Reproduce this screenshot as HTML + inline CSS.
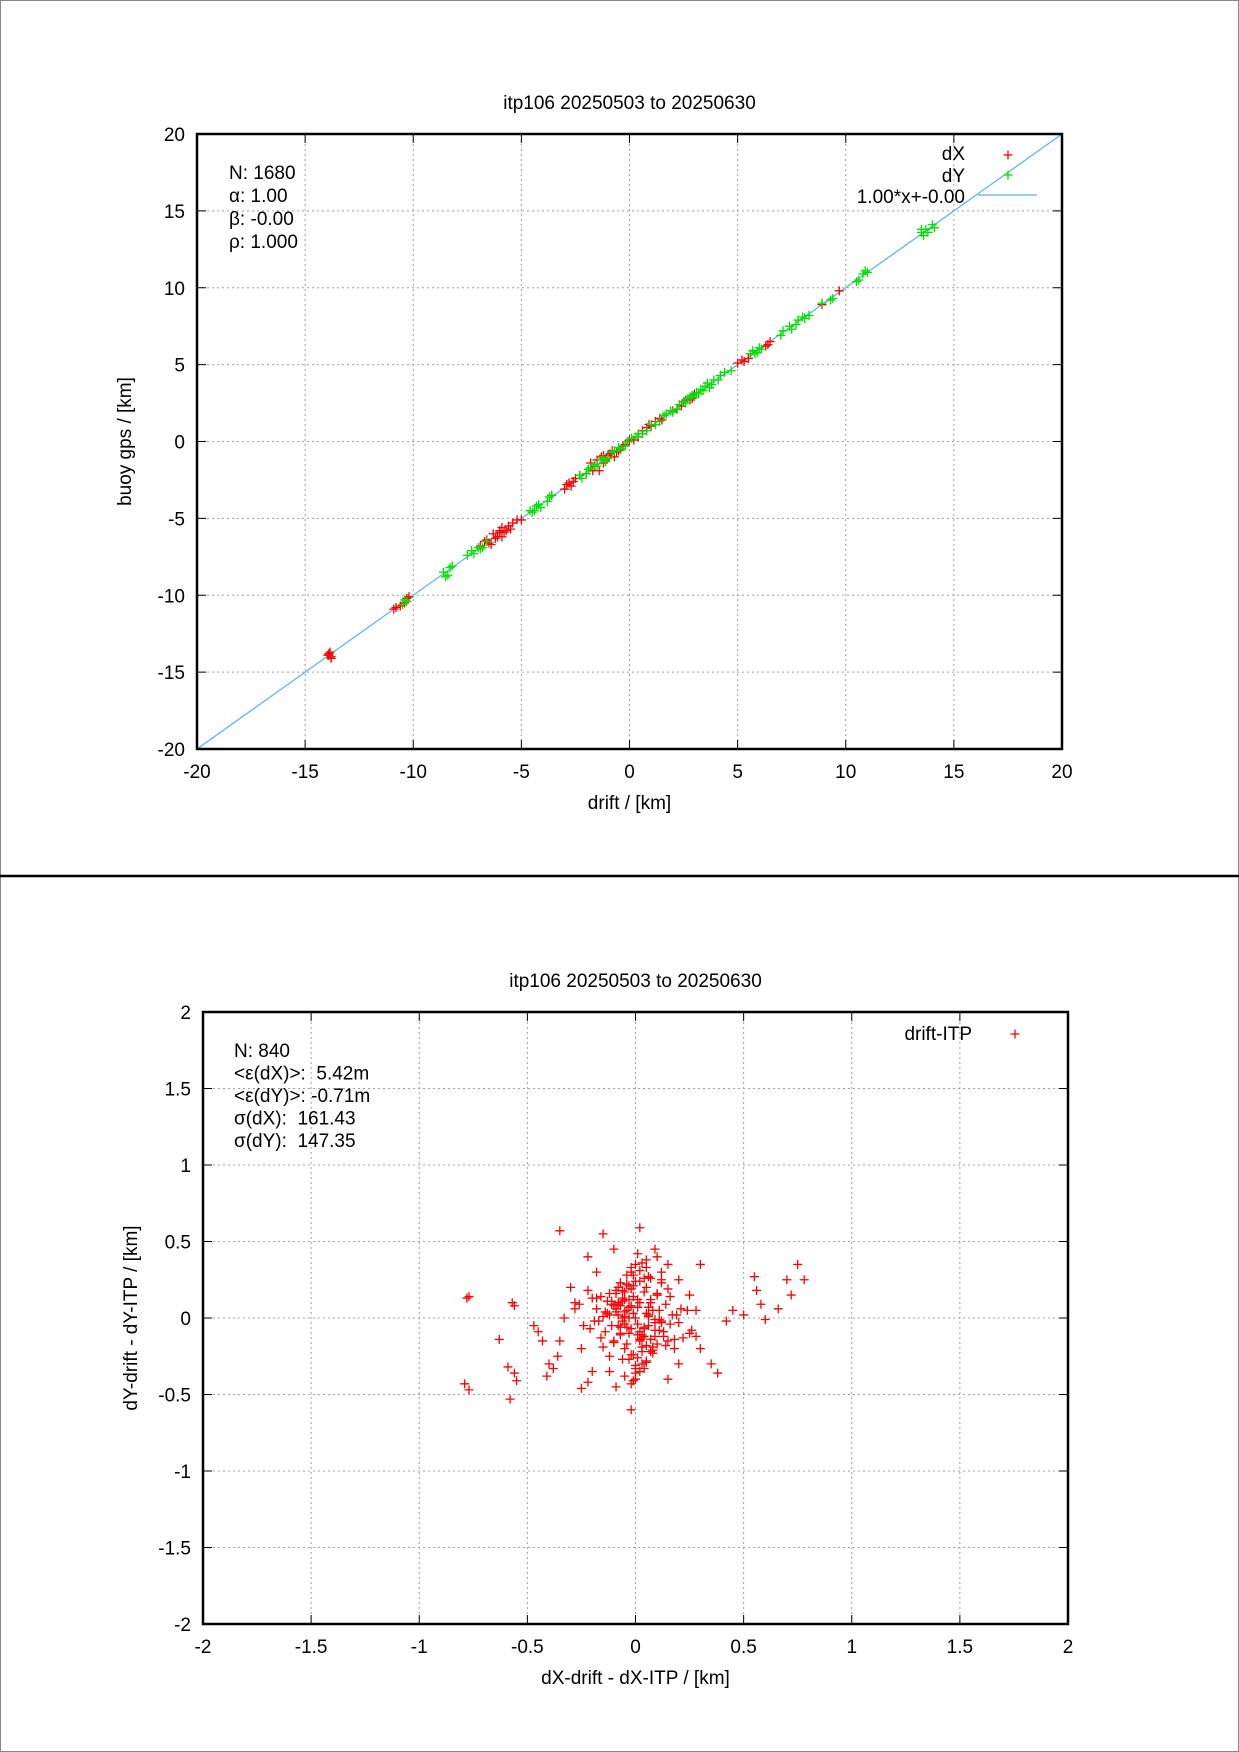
<!DOCTYPE html>
<html><head><meta charset="utf-8">
<style>
html,body{margin:0;padding:0;background:#fff;}
svg{display:block;font-family:"Liberation Sans",sans-serif;}
</style></head>
<body>
<svg id="fig" width="1239" height="1752" viewBox="0 0 1239 1752" xmlns="http://www.w3.org/2000/svg">
<rect x="0.5" y="0.5" width="1238" height="1751" fill="#fff" stroke="#888" stroke-width="1"/>
<line x1="0" y1="876" x2="1239" y2="876" stroke="#000" stroke-width="2.5"/>
<g id="top"></g>
<g id="bot"></g>
</svg>
<script>
// ---- top chart data ----
const topDxDrift = [-13.9,-13.8,-13.9,-10.9,-10.6,-10.3,-10.2,-6.9,-6.5,-6.3,-6.1,-6.0,-5.8,-5.6,-5.5,-5.2,-5.0,-3.6,-3.0,-2.8,-2.6,-2.3,-2.0,-1.8,-1.6,-1.3,-1.1,-0.9,-0.6,-0.4,-0.2,0.2,0.6,0.9,1.2,1.5,2.2,2.5,2.8,3.0,5.0,5.3,5.6,6.3,6.5,8.9,9.7];
const topDxGps   = [-13.8,-14.0,-13.9,-10.9,-10.7,-10.2,-10.1,-6.8,-6.6,-6.0,-6.2,-5.8,-5.9,-5.5,-5.7,-5.1,-5.1,-3.5,-3.1,-2.7,-2.6,-2.2,-2.1,-1.4,-1.6,-1.0,-1.2,-0.8,-0.7,-0.5,-0.2,0.1,0.7,1.1,1.3,1.4,2.1,2.6,2.7,3.1,5.1,5.2,5.7,6.2,6.5,8.9,9.8];
const topDxDrift2 = [-13.85,-13.95,-13.8,-10.8,-10.4,-6.7,-6.4,-6.2,-5.9,-5.7,-5.4,-5.9,-6.6,-6.0,-2.9,-2.7,-2.5,-1.9,-1.7,-1.5,-1.2,-1.0,-0.8,-0.5,-0.3,0.0,0.4,0.8,1.0,1.4,2.0,2.4,2.6,2.9,5.2,5.5,6.4,-1.4,-1.2,-0.7];
const topDxGps2   = [-13.7,-13.9,-14.1,-10.8,-10.5,-6.5,-6.7,-6.3,-5.6,-5.8,-5.3,-6.2,-6.4,-5.9,-2.8,-2.9,-2.4,-1.8,-1.9,-1.2,-1.4,-0.9,-0.6,-0.6,-0.3,0.1,0.3,0.9,1.0,1.5,2.0,2.3,2.7,2.8,5.3,5.4,6.3,-1.9,-0.9,-1.0];
const topDyDrift = [-10.5,-10.4,-8.6,-8.4,-8.3,-7.5,-7.2,-7.0,-6.8,-6.6,-4.6,-4.4,-4.2,-3.8,-3.6,-2.3,-2.0,-1.8,-1.5,-1.2,-1.0,-0.7,-0.4,-0.1,0.3,0.6,1.0,1.4,1.7,2.0,2.3,2.6,2.9,3.2,3.5,3.8,4.1,4.4,4.7,5.6,5.8,6.0,7.0,7.4,7.7,8.0,8.3,8.9,9.3,10.5,10.8,11.0,13.5,13.7,14.0];
const topDyGps   = [-10.6,-10.3,-8.5,-8.7,-8.2,-7.4,-7.3,-6.9,-6.9,-6.5,-4.5,-4.5,-4.1,-3.9,-3.5,-2.2,-2.1,-1.7,-1.6,-1.1,-1.1,-0.6,-0.5,0.0,0.3,0.5,1.1,1.3,1.8,1.9,2.4,2.5,3.0,3.1,3.6,3.7,4.0,4.5,4.6,5.7,5.7,6.1,6.9,7.5,7.6,8.1,8.2,9.0,9.2,10.4,10.9,11.0,13.6,13.8,14.1];
const topDyDrift2 = [-10.3,-8.5,-8.2,-7.3,-6.9,-4.5,-4.3,-4.1,-3.7,-2.2,-1.9,-1.6,-1.3,-1.1,-0.8,-0.5,-0.2,0.1,0.4,0.8,1.2,1.6,1.9,2.2,2.5,2.8,3.1,3.4,3.6,3.7,3.9,4.2,5.7,5.9,6.1,7.1,7.5,7.8,8.1,9.4,10.6,10.9,13.6,13.8,13.5,14.1,3.3,3.0,2.7];
const topDyGps2   = [-10.4,-8.8,-8.1,-7.1,-7.0,-4.6,-4.2,-4.3,-3.6,-2.4,-1.8,-1.5,-1.2,-1.3,-0.7,-0.4,-0.3,0.2,0.5,0.7,1.1,1.7,2.0,2.1,2.6,2.9,3.2,3.3,3.8,3.5,4.0,4.3,5.9,5.8,6.0,7.2,7.3,7.9,8.0,9.3,10.5,11.1,13.4,13.6,13.8,13.9,3.4,2.9,2.8];
const topTicks = [-20,-15,-10,-5,0,5,10,15,20];
const fitSlope = 1.00, fitIntercept = 0.00;

// ---- bottom chart data ----
const botDx = [-0.35,-0.78,-0.77,-0.57,-0.56,-0.63,-0.59,-0.56,-0.55,-0.79,-0.77,-0.58,-0.47,-0.45,-0.43,-0.40,-0.41,-0.38,-0.36,-0.25,-0.22,-0.20,-0.02,-0.02,0.02,-0.15,-0.10,0.10,0.15,0.30,0.35,0.38,0.45,0.50,0.55,0.56,0.58,0.60,0.66,0.70,0.72,0.75,0.78,0.42,0.30,0.25,-0.30,-0.28,-0.35,-0.33,-0.25,0.20,0.25,0.28,0.20,0.15,-0.12,-0.18,-0.22,0.12,
0.00,0.02,-0.03,0.05,-0.05,0.08,-0.08,0.10,-0.10,0.12,-0.12,0.03,-0.02,0.06,-0.06,0.01,0.04,-0.04,0.07,-0.07,0.09,-0.09,0.14,-0.14,0.16,-0.16,0.18,-0.18,0.00,0.02,-0.01,0.05,-0.05,0.11,-0.11,0.03,-0.03,0.08,-0.08,0.13,-0.13,0.20,-0.20,0.22,-0.22,0.00,0.01,-0.02,0.04,-0.04,0.06,-0.06,0.10,-0.10,0.02,-0.01,0.15,-0.15,0.17,-0.17,0.07,-0.07,0.24,-0.24,0.05,0.00,-0.05,0.09,-0.09,0.12];
const botDy = [0.57,0.13,0.14,0.10,0.08,-0.14,-0.32,-0.36,-0.41,-0.43,-0.47,-0.53,-0.05,-0.09,-0.15,-0.30,-0.38,-0.33,-0.25,-0.46,-0.42,-0.35,-0.60,-0.43,0.59,0.55,0.45,0.40,0.35,0.35,-0.30,-0.36,0.05,0.02,0.27,0.18,0.09,-0.01,0.06,0.25,0.15,0.35,0.25,-0.02,-0.20,-0.10,0.20,0.10,-0.15,0.00,-0.20,0.25,0.15,0.05,-0.30,-0.40,-0.35,0.30,0.18,0.30,
0.00,0.10,-0.10,0.20,-0.20,0.05,-0.05,0.15,-0.15,0.25,-0.25,-0.30,0.30,0.02,-0.02,0.12,-0.12,0.22,-0.22,0.08,-0.08,0.18,-0.18,0.04,-0.04,0.14,-0.14,0.06,0.35,-0.35,0.28,-0.28,0.01,-0.01,0.11,-0.11,0.21,-0.21,0.09,-0.09,0.03,-0.03,0.13,-0.13,0.40,-0.40,0.07,-0.07,0.17,-0.17,0.27,-0.27,0.16,-0.16,0.24,-0.24,0.19,-0.19,0.02,-0.02,0.26,-0.06,0.05,-0.05,0.33,-0.33,0.12,0.45,-0.45,0.23];
const botDxCore = [-0.01,0.01,-0.02,0.02,-0.03,0.03,-0.04,0.04,-0.05,0.05,-0.06,0.06,-0.07,0.07,-0.08,0.08,-0.09,0.09,-0.10,0.10,-0.11,0.11,-0.12,0.12,-0.13,0.13,0.00,0.01,-0.01,0.02,-0.02,0.03,-0.03,0.04,-0.04,0.05,-0.05,0.06,-0.06,0.07,-0.07,0.08,-0.08,0.09,-0.09,0.10,-0.10,0.00,0.02,-0.02,0.04,-0.04,0.06,-0.06,0.08,-0.08,0.01,-0.01,0.03,-0.03,0.05,-0.05,0.07,-0.07,0.11,-0.11,0.14,-0.14,0.16,-0.16,0.19,-0.19,0.21,-0.21,0.00,0.03,-0.03,0.06,-0.06,0.09,-0.09,0.12,-0.12,0.15,-0.15,0.02,-0.02,0.04,-0.04,0.18,-0.18,0.26,-0.26,0.28,-0.28,0.01,-0.01,0.05,-0.05];
const botDyCore = [0.03,-0.04,0.08,-0.09,0.12,-0.13,0.05,-0.06,0.17,-0.18,0.00,0.01,-0.11,0.10,0.20,-0.21,0.06,-0.03,-0.16,0.15,0.09,-0.08,0.02,-0.02,0.11,-0.12,0.24,-0.26,0.14,-0.15,0.19,-0.19,0.07,-0.07,0.28,-0.29,0.04,-0.05,0.13,-0.14,0.23,-0.23,0.02,-0.01,0.16,-0.17,0.08,-0.31,0.31,-0.24,0.26,-0.06,0.07,0.18,-0.19,0.10,-0.11,0.21,-0.22,0.00,0.03,-0.04,0.12,-0.10,0.05,-0.05,0.09,-0.09,0.14,-0.13,0.02,-0.02,0.06,-0.07,-0.36,0.36,-0.27,0.27,0.11,-0.12,0.04,-0.03,0.16,-0.15,0.01,-0.14,0.33,-0.33,0.22,-0.2,0.13,-0.08,0.09,-0.12,0.06,0.42,-0.41,0.38,-0.38];
const botTicksX = [-2,-1.5,-1,-0.5,0,0.5,1,1.5,2];
const botTicksY = [-2,-1.5,-1,-0.5,0,0.5,1,1.5,2];

const NS = "http://www.w3.org/2000/svg";
function mk(parent, tag, attrs, text){
  const e = document.createElementNS(NS, tag);
  for (const k in attrs) e.setAttribute(k, attrs[k]);
  if (text !== undefined) e.textContent = text;
  parent.appendChild(e);
  return e;
}
function plus(g, x, y, color){
  const p = mk(g, "path", {d:`M${x-4.5},${y}H${x+4.5}M${x},${y-4.5}V${y+4.5}`, stroke:color, "stroke-width":1.3, fill:"none"});
  
  
  return p;
}
function fmt(v){ return String(v); }

function frame(g, L, R, T, B, xmin, xmax, ymin, ymax, xt, yt, title, xlabel, ylabel){
  const sx = v => L + (v - xmin) / (xmax - xmin) * (R - L);
  const sy = v => B - (v - ymin) / (ymax - ymin) * (B - T);
  xt.forEach(v => {
    const x = sx(v);
    if (v !== xmin && v !== xmax) {
      const gl = mk(g, "line", {x1:x, y1:T, x2:x, y2:B, stroke:"#a0a0a0", "stroke-width":1, "stroke-dasharray":"2,3"});
      
      
    }
    const tk = mk(g, "path", {d:`M${x},${B}v-9M${x},${T}v9`, stroke:"#000", "stroke-width":1});
    
    
    const t = mk(g, "text", {x:x, y:B+29, "text-anchor":"middle", "font-size":19, fill:"#000"}, fmt(v));
    
    
  });
  yt.forEach(v => {
    const y = sy(v);
    if (v !== ymin && v !== ymax) {
      const gl = mk(g, "line", {x1:L, y1:y, x2:R, y2:y, stroke:"#a0a0a0", "stroke-width":1, "stroke-dasharray":"2,3"});
      
      
    }
    const tk = mk(g, "path", {d:`M${L},${y}h9M${R},${y}h-9`, stroke:"#000", "stroke-width":1});
    
    
    const t = mk(g, "text", {x:L-12, y:y+7, "text-anchor":"end", "font-size":19, fill:"#000"}, fmt(v));
    
    
  });
  const ti = mk(g, "text", {x:(L+R)/2, y:T-25, "text-anchor":"middle", "font-size":19, fill:"#000"}, title);
  
  
  const xl = mk(g, "text", {x:(L+R)/2, y:B+60, "text-anchor":"middle", "font-size":19, fill:"#000"}, xlabel);
  
  
  const yx = L - 66, yy = (T+B)/2;
  const yl = mk(g, "text", {x:yx, y:yy, "text-anchor":"middle", "font-size":19, fill:"#000", transform:`rotate(-90 ${yx} ${yy})`}, ylabel);
  
  
  return {sx, sy};
}
function border(g, L, R, T, B){
  const r = mk(g, "rect", {x:L, y:T, width:R-L, height:B-T, fill:"none", stroke:"#000", "stroke-width":2.5});
  
  
}
function info(g, x, y0, step, lines){
  lines.forEach((s, i) => {
    const t = mk(g, "text", {x:x, y:y0 + i*step, "font-size":19, fill:"#000", style:"white-space:pre"}, s);
    
    
  });
}

// ---- top chart ----
(function(){
  const g = document.getElementById('top');
  const L=197, R=1062, T=134, B=749;
  const {sx, sy} = frame(g, L, R, T, B, -20, 20, -20, 20, topTicks, topTicks,
    "itp106 20250503 to 20250630", "drift / [km]", "buoy gps / [km]");
  const fl = mk(g, "line", {x1:sx(-20), y1:sy(fitSlope*-20+fitIntercept), x2:sx(20), y2:sy(fitSlope*20+fitIntercept), stroke:"#56b4e9", "stroke-width":1.2});
  
  
  topDxDrift.forEach((v,i) => plus(g, sx(v), sy(topDxGps[i]), "#ff0000"));
  topDxDrift2.forEach((v,i) => plus(g, sx(v), sy(topDxGps2[i]), "#ff0000"));
  topDyDrift.forEach((v,i) => plus(g, sx(v), sy(topDyGps[i]), "#00e000"));
  topDyDrift2.forEach((v,i) => plus(g, sx(v), sy(topDyGps2[i]), "#00e000"));
  info(g, 229, 179, 23, ["N: 1680","α: 1.00","β: -0.00","ρ: 1.000"]);
  const l1 = mk(g, "text", {x:965, y:160, "text-anchor":"end", "font-size":19}, "dX");
  
  
  plus(g, 1008, 155, "#ff0000");
  const l2 = mk(g, "text", {x:965, y:182, "text-anchor":"end", "font-size":19}, "dY");
  
  
  plus(g, 1008, 175, "#00e000");
  const l3 = mk(g, "text", {x:965, y:203, "text-anchor":"end", "font-size":19}, "1.00*x+-0.00");
  
  
  const ll = mk(g, "line", {x1:978, y1:195, x2:1037, y2:195, stroke:"#56b4e9", "stroke-width":1.2});
  
  
  border(g, L, R, T, B);
})();

// ---- bottom chart ----
(function(){
  const g = document.getElementById('bot');
  const L=203, R=1068, T=1012, B=1624;
  const {sx, sy} = frame(g, L, R, T, B, -2, 2, -2, 2, botTicksX, botTicksY,
    "itp106 20250503 to 20250630", "dX-drift - dX-ITP / [km]", "dY-drift - dY-ITP / [km]");
  botDx.forEach((v,i) => plus(g, sx(v), sy(botDy[i]), "#ff0000"));
  botDxCore.forEach((v,i) => plus(g, sx(v), sy(botDyCore[i]), "#ff0000"));
  info(g, 234, 1057, 22.5, ["N: 840","<ε(dX)>:  5.42m","<ε(dY)>: -0.71m","σ(dX):  161.43","σ(dY):  147.35"]);
  const l1 = mk(g, "text", {x:972, y:1040, "text-anchor":"end", "font-size":19}, "drift-ITP");
  
  
  plus(g, 1015, 1034, "#ff0000");
  border(g, L, R, T, B);
})();
</script>
</body></html>
